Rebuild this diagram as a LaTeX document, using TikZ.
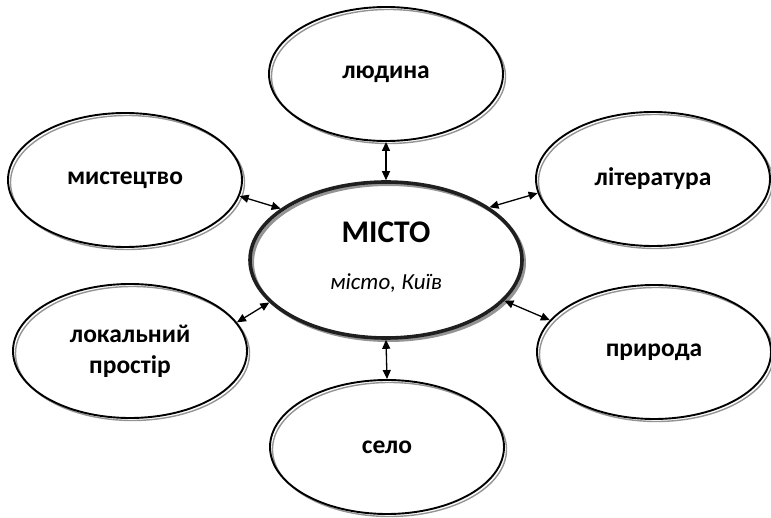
\documentclass[tikz,border=0pt]{standalone}
\usepackage{fontspec}
\setmainfont{Carlito}
\usetikzlibrary{shapes.geometric,arrows.meta}
\tikzset{
  bubble/.style={ellipse, draw=black, line width=1.9pt, inner sep=0pt,
    minimum width=234pt, minimum height=134pt, align=center,
    font=\bfseries\fontsize{25.5}{31}\selectfont,
    preaction={draw=black!42, line width=1.4pt,
      transform canvas={shift={(2.5pt,-2.5pt)}}}},
  hub/.style={ellipse, draw=black!88, line width=3.6pt, inner sep=0pt,
    minimum width=272pt, minimum height=156pt, align=center,
    preaction={draw=black!42, line width=3pt,
      transform canvas={shift={(2.5pt,-2.5pt)}}}},
  link/.style={{Triangle[length=9pt,width=8pt]}-{Triangle[length=9pt,width=8pt]}, line width=1.3pt},
}
\begin{document}
\begin{tikzpicture}[x=1pt,y=-1pt]
\useasboundingbox (0,0) rectangle (771,518);
\node[hub] (c) at (386,260) {};
\node[font=\bfseries\fontsize{31.5}{36}\selectfont] (ct) at (386,232) {МІСТО};
\node[font=\itshape\fontsize{23}{26}\selectfont] (cs) at (386,283) {місто, Київ};
\node[bubble] (l) at (386,74) {людина};
\node[bubble] (m) at (125,180) {мистецтво};
\node[bubble] (t) at (653,179) {література};
\node[bubble] (p) at (130,351) {локальний\\простір};
\node[bubble] (n) at (654,352) {природа};
\node[bubble] (s) at (387,447) {село};
\draw[link] (l.south) -- (c.north);
\draw[link] (c.south) -- (s.north);
\draw[link] (m.-8.8) -- (c.154.3);
\draw[link] (p.15) -- (c.200.4);
\draw[link] (c.27) -- (t.187);
\draw[link] (c.-19.7) -- (n.163.6);
\end{tikzpicture}
\end{document}
